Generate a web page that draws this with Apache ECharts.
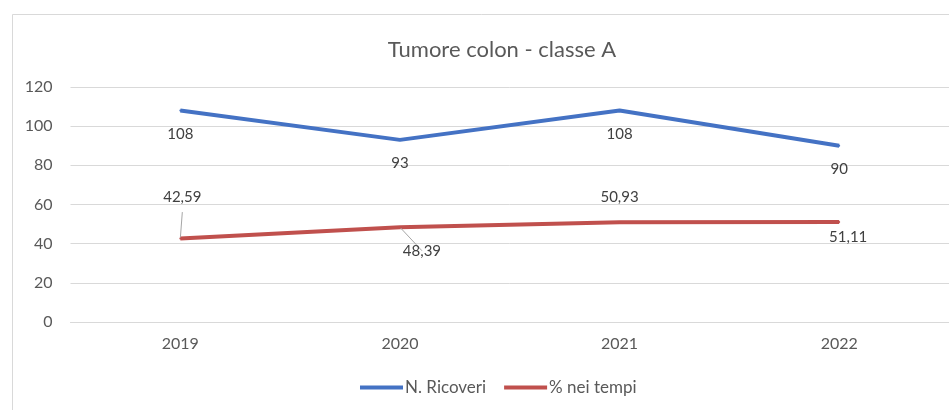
<!DOCTYPE html>
<html lang="it">
<head>
  <meta charset="UTF-8">
  <title>Tumore colon - classe A</title>
  <script src="https://cdn.jsdelivr.net/npm/echarts@6/dist/echarts.min.js"></script>
  <style>
    html, body {
      margin: 0;
      padding: 0;
      background: #ffffff;
      overflow: hidden;
    }

    .box {
      width: 949px;
      height: 410px;
    }
  </style>
</head>
<body>
<div class="box"></div>

<script>
  // dati
  var anni = ['2019', '2020', '2021', '2022'];
  var ricoveri = [108, 93, 108, 90];
  var percNeiTempi = [42.59, 48.39, 50.93, 51.11];
  var yTicks = [0, 20, 40, 60, 80, 100, 120];

  var box = document.getElementsByClassName("box")[0];
  var myChart = echarts.init(box);

  var font = "Lato, 'Open Sans', sans-serif";
  var blu = '#4472C4';
  var rosso = '#C0504D';

  function virgola(v, dec) {
    return v.toFixed(dec).replace('.', ',');
  }

  // posizione delle etichette come nel grafico di Excel
  var labelRosso = [
    { position: 'top', distance: 33, offset: [2, 0] },
    { position: 'bottom', distance: 15, offset: [22, 0] },
    { position: 'top', distance: 17 },
    { position: 'bottom', distance: 7, offset: [9, 0] }
  ];
  var conGuida = [true, true, false, false];

  var option = {
    backgroundColor: '#ffffff',
    animation: false,
    graphic: [
      {
        type: 'rect',
        shape: { x: 12.5, y: 14.5, width: 1000, height: 500 },
        style: { fill: 'none', stroke: '#d9d9d9', lineWidth: 1 },
        silent: true
      }
    ],
    title: {
      text: 'Tumore colon - classe A',
      left: 497,
      top: 34,
      textAlign: 'center',
      textStyle: {
        fontFamily: font,
        fontSize: 22,
        fontWeight: 'normal',
        color: '#595959'
      }
    },
    legend: {
      left: 355,
      top: 374,
      itemWidth: 43,
      itemHeight: 4,
      itemGap: 18,
      icon: 'rect',
      textStyle: {
        fontFamily: font,
        fontSize: 17,
        color: '#595959',
        padding: [0, 0, 0, -3]
      },
      data: ['N. Ricoveri', '% nei tempi']
    },
    grid: {
      left: 70.5,
      right: -12.5,
      top: 87,
      bottom: 88
    },
    xAxis: {
      type: 'category',
      data: anni,
      boundaryGap: true,
      axisLine: { show: true, lineStyle: { color: '#d9d9d9' } },
      axisTick: { show: false },
      axisLabel: {
        margin: 14,
        fontFamily: font,
        fontSize: 16,
        color: '#595959'
      }
    },
    yAxis: {
      type: 'value',
      min: yTicks[0],
      max: yTicks[yTicks.length - 1],
      interval: yTicks[1] - yTicks[0],
      axisLine: { show: false },
      axisTick: { show: false },
      splitLine: { lineStyle: { color: '#d9d9d9' } },
      axisLabel: {
        margin: 18,
        fontFamily: font,
        fontSize: 16,
        color: '#595959'
      }
    },
    series: [
      {
        name: 'N. Ricoveri',
        type: 'line',
        data: ricoveri,
        symbol: 'circle',
        symbolSize: 2,
        lineStyle: { color: blu, width: 4 },
        itemStyle: { color: blu },
        label: {
          show: true,
          position: 'bottom',
          distance: 15,
          fontFamily: font,
          fontSize: 15,
          color: '#404040',
          formatter: function (p) { return String(p.value); }
        }
      },
      {
        name: '% nei tempi',
        type: 'line',
        data: percNeiTempi.map(function (v, i) {
          var item = { value: v, label: labelRosso[i] };
          if (conGuida[i]) {
            // linea guida dell'etichetta spostata
            item.labelLine = {
              show: true,
              lineStyle: { color: '#a6a6a6', width: 1 }
            };
          }
          return item;
        }),
        symbol: 'circle',
        symbolSize: 2,
        lineStyle: { color: rosso, width: 4 },
        itemStyle: { color: rosso },
        labelLine: { show: false },
        label: {
          show: true,
          fontFamily: font,
          fontSize: 15,
          color: '#404040',
          formatter: function (p) { return virgola(p.value, 2); }
        }
      }
    ]
  };

  myChart.setOption(option);
</script>
</body>
</html>
